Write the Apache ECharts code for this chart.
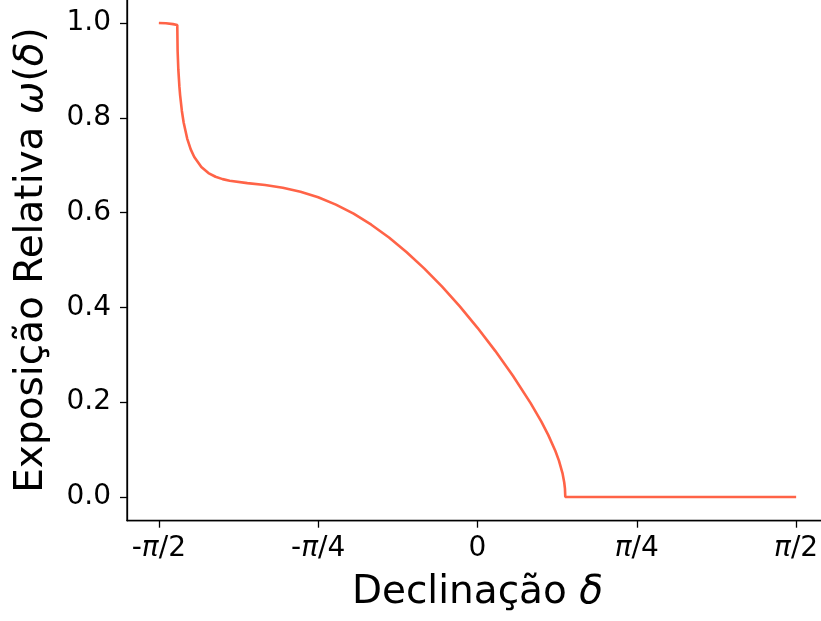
<!DOCTYPE html>
<html>
<head>
<meta charset="utf-8">
<style>
html,body{margin:0;padding:0;background:#fff;}
#chart{width:821px;height:621px;}
</style>
<script src="https://cdn.jsdelivr.net/npm/echarts@6/dist/echarts.min.js"></script>
</head>
<body>
<div id="chart"></div>
<script>
// Declination in degrees (axis shows multiples of pi)
const declination = [-90, -88, -86, -84.8, -84.7, -84.5, -84.2, -84, -83.5, -83, -82, -81, -80, -78, -76, -74, -72, -70, -65, -60, -55, -50, -45, -40, -35, -30, -25, -20, -15, -10, -5, 0, 5, 10, 15, 18, 20, 22, 23, 24, 24.5, 24.7, 24.8, 90];
const exposure = [1.0, 0.9994, 0.9976, 0.9959, 0.9404, 0.9015, 0.8656, 0.8479, 0.8144, 0.7902, 0.7562, 0.7333, 0.7173, 0.6960, 0.6834, 0.6756, 0.6706, 0.6672, 0.6622, 0.6581, 0.6524, 0.6441, 0.6324, 0.6169, 0.5977, 0.5745, 0.5474, 0.5165, 0.4819, 0.4437, 0.4020, 0.3569, 0.3083, 0.2558, 0.1981, 0.1594, 0.1306, 0.0971, 0.0768, 0.0505, 0.0306, 0.0176, 0.0, 0.0];

const xTickValues = [-90, -45, 0, 45, 90];
const xTickLabels = ['-{i|π}/2', '-{i|π}/4', '0', '{i|π}/4', '{i|π}/2'];
const yTickValues = [0, 0.2, 0.4, 0.6, 0.8, 1.0];
const yTickLabels = ['0.0', '0.2', '0.4', '0.6', '0.8', '1.0'];

const xTitle = 'Declinação {i|δ}';
const yTitle = 'Exposição Relativa {i|ω}({i|δ})';

const FONT = 'DejaVu Sans';
const chart = echarts.init(document.getElementById('chart'), null, {renderer: 'canvas'});

const seriesData = declination.map((d, i) => [d, exposure[i]]);

chart.setOption({
  animation: false,
  backgroundColor: '#ffffff',
  grid: {
    left: 127, top: -0.7, width: 701, height: 521.4,
    containLabel: false,
    outerBoundsMode: 'none',
    show: true, borderColor: '#000', borderWidth: 1.3, backgroundColor: 'transparent'
  },
  xAxis: {
    type: 'value', min: -99, max: 99,
    splitLine: {show: false},
    axisLine: {show: true, onZero: false, lineStyle: {color: '#000', width: 1.3}},
    axisTick: {show: true, customValues: xTickValues, length: 7, lineStyle: {color: '#000', width: 1.3}},
    axisLabel: {
      customValues: xTickValues,
      margin: 14,
      color: '#000', fontFamily: FONT, fontSize: 28,
      formatter: function (v) { return xTickLabels[xTickValues.indexOf(v)]; },
      rich: {i: {fontFamily: FONT, fontStyle: 'italic', fontSize: 28, color: '#000'}}
    },
    name: xTitle,
    nameLocation: 'middle',
    nameGap: 53,
    nameTextStyle: {
      color: '#000', fontFamily: FONT, fontSize: 39,
      rich: {i: {fontFamily: FONT, fontStyle: 'italic', fontSize: 39, color: '#000'}}
    }
  },
  yAxis: {
    type: 'value', min: -0.05, max: 1.05,
    splitLine: {show: false},
    axisLine: {show: true, onZero: false, lineStyle: {color: '#000', width: 1.3}},
    axisTick: {show: true, customValues: yTickValues, length: 7, lineStyle: {color: '#000', width: 1.3}},
    axisLabel: {
      customValues: yTickValues,
      margin: 16,
      color: '#000', fontFamily: FONT, fontSize: 28,
      formatter: function (v) {
        let k = yTickValues.findIndex(t => Math.abs(t - v) < 1e-9);
        return k >= 0 ? yTickLabels[k] : '';
      }
    },
    name: yTitle,
    nameLocation: 'middle',
    nameGap: 76,
    nameRotate: 90,
    nameTextStyle: {
      color: '#000', fontFamily: FONT, fontSize: 39,
      rich: {i: {fontFamily: FONT, fontStyle: 'italic', fontSize: 39, color: '#000'}}
    }
  },
  series: [{
    type: 'line',
    data: seriesData,
    showSymbol: false,
    smooth: false,
    clip: true,
    lineStyle: {color: '#ff6347', width: 2.6},
    itemStyle: {color: '#ff6347'}
  }]
});
</script>
</body>
</html>
